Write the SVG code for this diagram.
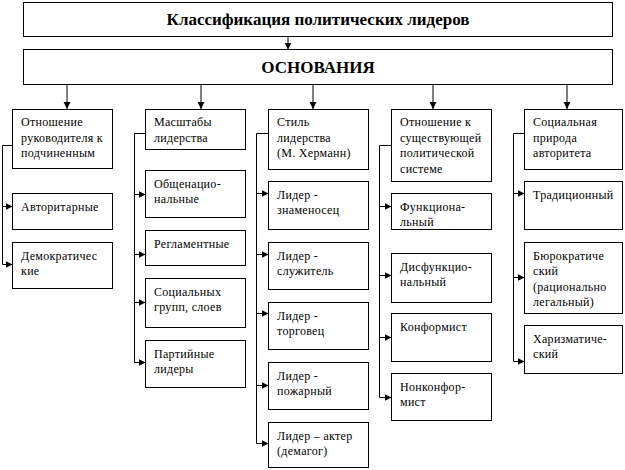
<svg xmlns="http://www.w3.org/2000/svg" width="625" height="470" viewBox="0 0 625 470" font-family="Liberation Serif, Times New Roman, serif">
<style>
rect{fill:#fff;stroke:#000;stroke-width:1}
.t{font-size:12px;letter-spacing:0.3px;font-family:"Liberation Serif",serif}
.h{font-size:17px;font-weight:bold;text-anchor:middle;font-family:"Liberation Serif",serif}
.c{fill:none;stroke:#000;stroke-width:1}
</style>
<defs>
<marker id="a" markerUnits="userSpaceOnUse" markerWidth="8" markerHeight="8" refX="7" refY="3.5" orient="auto"><path d="M0,0 L7,3.5 L0,7 z" fill="#000"/></marker>
</defs>
<g id="connectors" class="c">
<line x1="288" y1="36.5" x2="288" y2="49.5" marker-end="url(#a)"/>
<line x1="67" y1="84.5" x2="67" y2="109" marker-end="url(#a)"/>
<line x1="201" y1="84.5" x2="201" y2="109" marker-end="url(#a)"/>
<line x1="313" y1="84.5" x2="313" y2="109" marker-end="url(#a)"/>
<line x1="433" y1="84.5" x2="433" y2="109" marker-end="url(#a)"/>
<line x1="567" y1="84.5" x2="567" y2="109" marker-end="url(#a)"/>
<polyline points="12.5,145.5 2.5,145.5 2.5,264.5"/>
<line x1="2.5" y1="206.5" x2="12.5" y2="206.5" marker-end="url(#a)"/>
<line x1="2.5" y1="264.5" x2="12.5" y2="264.5" marker-end="url(#a)"/>
<polyline points="145.5,133.5 134.5,133.5 134.5,362.5"/>
<line x1="134.5" y1="194.5" x2="145.5" y2="194.5" marker-end="url(#a)"/>
<line x1="134.5" y1="254.5" x2="145.5" y2="254.5" marker-end="url(#a)"/>
<line x1="134.5" y1="302.5" x2="145.5" y2="302.5" marker-end="url(#a)"/>
<line x1="134.5" y1="362.5" x2="145.5" y2="362.5" marker-end="url(#a)"/>
<polyline points="268.5,133.5 256.5,133.5 256.5,443.5"/>
<line x1="256.5" y1="193.5" x2="268.5" y2="193.5" marker-end="url(#a)"/>
<line x1="256.5" y1="254.5" x2="268.5" y2="254.5" marker-end="url(#a)"/>
<line x1="256.5" y1="313.5" x2="268.5" y2="313.5" marker-end="url(#a)"/>
<line x1="256.5" y1="385.5" x2="268.5" y2="385.5" marker-end="url(#a)"/>
<line x1="256.5" y1="443.5" x2="268.5" y2="443.5" marker-end="url(#a)"/>
<polyline points="391.5,145.5 379.5,145.5 379.5,397.5"/>
<line x1="379.5" y1="206.5" x2="391.5" y2="206.5" marker-end="url(#a)"/>
<line x1="379.5" y1="275.5" x2="391.5" y2="275.5" marker-end="url(#a)"/>
<line x1="379.5" y1="337.5" x2="391.5" y2="337.5" marker-end="url(#a)"/>
<line x1="379.5" y1="397.5" x2="391.5" y2="397.5" marker-end="url(#a)"/>
<polyline points="524.5,133.5 513.5,133.5 513.5,361.5"/>
<line x1="513.5" y1="193.5" x2="524.5" y2="193.5" marker-end="url(#a)"/>
<line x1="513.5" y1="277.5" x2="524.5" y2="277.5" marker-end="url(#a)"/>
<line x1="513.5" y1="361.5" x2="524.5" y2="361.5" marker-end="url(#a)"/>
</g>
<g id="title"><rect x="23.5" y="2.5" width="589" height="34"/><text class="h" x="318" y="25">Классификация политических лидеров</text></g>
<g id="osnovaniya"><rect x="23.5" y="49.5" width="589" height="35"/><text class="h" x="318" y="73">ОСНОВАНИЯ</text></g>

<g id="c1h"><rect x="12.5" y="109.5" width="100" height="59"/><text class="t" x="21"><tspan x="21" y="126">Отношение</tspan><tspan x="21" y="141.5">руководителя к</tspan><tspan x="21" y="157">подчиненным</tspan></text></g>
<g id="c1a"><rect x="12.5" y="193.5" width="100" height="36"/><text class="t" x="21" y="211">Авторитарные</text></g>
<g id="c1b"><rect x="12.5" y="242.5" width="100" height="46"/><text class="t"><tspan x="21" y="259.5">Демократичес</tspan><tspan x="21" y="275">кие</tspan></text></g>

<g id="c2h"><rect x="145.5" y="109.5" width="100" height="40"/><text class="t"><tspan x="154" y="126">Масштабы</tspan><tspan x="154" y="141.5">лидерства</tspan></text></g>
<g id="c2a"><rect x="145.5" y="170.5" width="100" height="47"/><text class="t"><tspan x="154" y="187.5">Общенацио-</tspan><tspan x="154" y="203">нальные</tspan></text></g>
<g id="c2b"><rect x="145.5" y="230.5" width="100" height="35"/><text class="t" x="154" y="247.5">Регламентные</text></g>
<g id="c2c"><rect x="145.5" y="278.5" width="100" height="49"/><text class="t"><tspan x="154" y="295.5">Социальных</tspan><tspan x="154" y="311">групп, слоев</tspan></text></g>
<g id="c2d"><rect x="145.5" y="340.5" width="100" height="47"/><text class="t"><tspan x="154" y="357.5">Партийные</tspan><tspan x="154" y="373">лидеры</tspan></text></g>

<g id="c3h"><rect x="268.5" y="109.5" width="100" height="60"/><text class="t"><tspan x="277" y="126">Стиль</tspan><tspan x="277" y="141.5">лидерства</tspan><tspan x="277" y="157">(М. Херманн)</tspan></text></g>
<g id="c3a"><rect x="268.5" y="181.5" width="100" height="48"/><text class="t"><tspan x="277" y="198.5">Лидер -</tspan><tspan x="277" y="214">знаменосец</tspan></text></g>
<g id="c3b"><rect x="268.5" y="242.5" width="100" height="47"/><text class="t"><tspan x="277" y="259.5">Лидер -</tspan><tspan x="277" y="275">служитель</tspan></text></g>
<g id="c3c"><rect x="268.5" y="302.5" width="100" height="47"/><text class="t"><tspan x="277" y="319.5">Лидер -</tspan><tspan x="277" y="335">торговец</tspan></text></g>
<g id="c3d"><rect x="268.5" y="362.5" width="100" height="47"/><text class="t"><tspan x="277" y="379.5">Лидер -</tspan><tspan x="277" y="395">пожарный</tspan></text></g>
<g id="c3e"><rect x="268.5" y="422.5" width="100" height="45"/><text class="t"><tspan x="277" y="439.5">Лидер – актер</tspan><tspan x="277" y="455">(демагог)</tspan></text></g>

<g id="c4h"><rect x="391.5" y="109.5" width="100" height="72"/><text class="t"><tspan x="400" y="126">Отношение к</tspan><tspan x="400" y="141.5">существующей</tspan><tspan x="400" y="157">политической</tspan><tspan x="400" y="172.5">системе</tspan></text></g>
<g id="c4a"><rect x="391.5" y="193.5" width="100" height="36"/><text class="t"><tspan x="400" y="210.5">Функциона-</tspan><tspan x="400" y="226">льный</tspan></text></g>
<g id="c4b"><rect x="391.5" y="253.5" width="100" height="49"/><text class="t"><tspan x="400" y="270.5">Дисфункцио-</tspan><tspan x="400" y="286">нальный</tspan></text></g>
<g id="c4c"><rect x="391.5" y="313.5" width="100" height="48"/><text class="t" x="400" y="330.5">Конформист</text></g>
<g id="c4d"><rect x="391.5" y="373.5" width="100" height="47"/><text class="t"><tspan x="400" y="390.5">Нонконфор-</tspan><tspan x="400" y="406">мист</tspan></text></g>

<g id="c5h"><rect x="524.5" y="109.5" width="98" height="60"/><text class="t"><tspan x="533" y="126">Социальная</tspan><tspan x="533" y="141.5">природа</tspan><tspan x="533" y="157">авторитета</tspan></text></g>
<g id="c5a"><rect x="524.5" y="181.5" width="98" height="48"/><text class="t" x="533" y="198.5">Традиционный</text></g>
<g id="c5b"><rect x="524.5" y="242.5" width="98" height="71"/><text class="t"><tspan x="533" y="259.5">Бюрократиче</tspan><tspan x="533" y="275">ский</tspan><tspan x="533" y="290.5">(рационально</tspan><tspan x="533" y="306">легальный)</tspan></text></g>
<g id="c5c"><rect x="524.5" y="325.5" width="98" height="48"/><text class="t"><tspan x="533" y="342.5">Харизматиче-</tspan><tspan x="533" y="358">ский</tspan></text></g>
</svg>
